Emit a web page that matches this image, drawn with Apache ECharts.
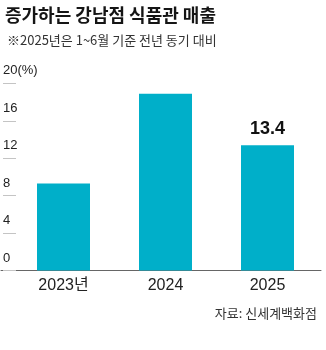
<!DOCTYPE html>
<html>
<head>
<meta charset="utf-8">
<script src="https://cdn.jsdelivr.net/npm/echarts@6/dist/echarts.min.js"></script>
<style>
html,body{margin:0;padding:0;background:#fff;}
#c{width:326px;height:350px;}
</style>
</head>
<body>
<div id="c"></div>
<script>
var titleText = '증가하는 강남점 식품관 매출';
var subtitleText = '※2025년은 1~6월 기준 전년 동기 대비';
var sourceText = '자료: 신세계백화점';
var categories = ['2023년', '2024', '2025'];
var salesGrowth = [9.3, 18.9, 13.4];
var labeledIndex = [2];
var yTickValues = [0, 4, 8, 12, 16, 20];
var yTickLabels = ['0', '4', '8', '12', '16', '20(%)'];

var cjk = "'Noto Sans CJK KR', sans-serif";
var latin = "'Liberation Sans', 'Noto Sans CJK KR', sans-serif";

var chart = echarts.init(document.getElementById('c'), null, {renderer: 'canvas'});

var barData = salesGrowth.map(function (v, i) {
  var item = {value: v};
  if (labeledIndex.indexOf(i) >= 0) {
    item.label = {
      show: true,
      position: 'top',
      distance: 7,
      color: '#111',
      fontFamily: latin,
      fontWeight: 'bold',
      fontSize: 18
    };
  }
  return item;
});

chart.setOption({
  animation: false,
  backgroundColor: '#fff',
  title: [
    {text: titleText, left: 0, top: 1,
     textStyle: {fontFamily: cjk, fontWeight: 'bold', fontSize: 18, color: '#151515'}},
    {text: subtitleText, left: 2, top: 29,
     textStyle: {fontFamily: cjk, fontWeight: 'normal', fontSize: 13, color: '#333'}},
    {text: sourceText, right: 4, top: 302,
     textStyle: {fontFamily: cjk, fontWeight: 'normal', fontSize: 13, color: '#333'}}
  ],
  grid: [
    {left: 12.5, right: 7.5, top: 83.4, bottom: 79.5},
    {left: 0, right: 5, top: 83.4, bottom: 79.5}
  ],
  xAxis: [
    {type: 'category', gridIndex: 0, data: categories,
     axisLine: {show: false}, axisTick: {show: false},
     axisLabel: {margin: 7, fontFamily: latin, fontSize: 16, color: '#222'}},
    {type: 'value', gridIndex: 1, min: 0, max: 1,
     axisLine: {show: true, lineStyle: {color: '#666', width: 1}},
     axisTick: {show: false}, axisLabel: {show: false}, splitLine: {show: false}}
  ],
  yAxis: [
    {type: 'value', gridIndex: 0, min: 0, max: 20, interval: 4,
     axisLine: {show: false}, axisTick: {show: false},
     axisLabel: {show: false}, splitLine: {show: false}},
    {type: 'value', gridIndex: 1, min: 0, max: 20, interval: 4, offset: -2,
     axisLine: {show: false},
     axisTick: {show: true, inside: true, length: 13, lineStyle: {color: '#c4c4c4', width: 1}},
     splitLine: {show: false},
     axisLabel: {
       inside: true, margin: 0, align: 'left', verticalAlign: 'bottom',
       padding: [0, 0, 6, 0],
       fontFamily: latin, fontSize: 13, color: '#222',
       formatter: function (v) {
         var i = yTickValues.indexOf(v);
         return i >= 0 ? yTickLabels[i] : '';
       }
     }}
  ],
  series: [
    {type: 'bar', xAxisIndex: 0, yAxisIndex: 0, data: barData,
     barWidth: 53, itemStyle: {color: '#00AFC9'}, z: 1}
  ]
});
</script>
</body>
</html>
